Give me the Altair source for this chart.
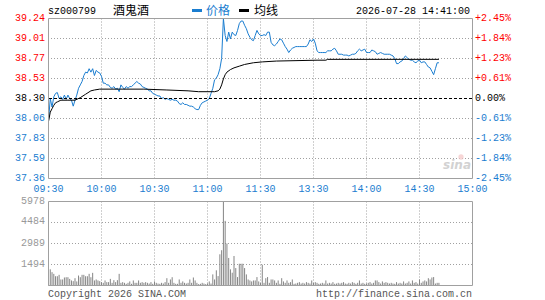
import altair as alt
import pandas as pd

stock_code = "sz000799"
stock_name = "酒鬼酒"
stamp = "2026-07-28 14:41:00"
legend_labels = ["价格", "均线"]
footer_left = "Copyright 2026 SINA.COM"
footer_right = "http://finance.sina.com.cn"
prev_close = 38.30

# one value per trading minute from 09:30 (index 0); 11:30 = 120, 15:00 = 240
price = [
    38.04, 38.30, 38.20, 38.32, 38.36, 38.37, 38.30, 38.32, 38.29, 38.34,
    38.29, 38.34, 38.30, 38.28, 38.21, 38.28, 38.34, 38.42, 38.46, 38.50,
    38.57, 38.61, 38.60, 38.65, 38.61, 38.65, 38.57, 38.63, 38.61, 38.60,
    38.56, 38.48, 38.48, 38.46, 38.46, 38.43, 38.42, 38.44, 38.41, 38.42,
    38.38, 38.46, 38.43, 38.41, 38.44, 38.42, 38.44, 38.44, 38.46, 38.48,
    38.50, 38.48, 38.47, 38.44, 38.43, 38.42, 38.41, 38.39, 38.39, 38.36,
    38.35, 38.34, 38.33, 38.33, 38.30, 38.31, 38.29, 38.30, 38.29, 38.28,
    38.29, 38.28, 38.28, 38.27, 38.24, 38.23, 38.25, 38.23, 38.23, 38.22,
    38.21, 38.21, 38.20, 38.18, 38.17, 38.17, 38.22, 38.25, 38.26, 38.27,
    38.28, 38.30, 38.36, 38.42, 38.52, 38.54, 38.58, 38.65, 38.77, 39.24,
    39.04, 38.97, 39.08, 39.00, 39.08, 39.05, 39.04, 39.10, 39.18, 39.21,
    39.21, 39.16, 39.12, 39.06, 39.02, 38.99, 38.98, 39.04, 39.10, 39.06,
    39.04, 39.04, 39.05, 39.04, 39.08, 39.08, 38.96, 38.93, 38.92, 38.94,
    38.97, 39.00, 38.99, 38.95, 38.91, 38.88, 38.84, 38.87, 38.89, 38.90,
    38.91, 38.91, 38.91, 38.91, 38.91, 38.91, 38.91, 38.94, 38.99, 38.97,
    39.00, 38.95, 38.86, 38.84, 38.84, 38.84, 38.84, 38.84, 38.86, 38.86,
    38.86, 38.88, 38.89, 38.86, 38.82, 38.82, 38.82, 38.81, 38.81, 38.81,
    38.80, 38.81, 38.82, 38.82, 38.83, 38.86, 38.88, 38.86, 38.87, 38.88,
    38.84, 38.84, 38.84, 38.87, 38.86, 38.85, 38.82, 38.83, 38.84, 38.83,
    38.82, 38.82, 38.82, 38.82, 38.81, 38.80, 38.77, 38.71, 38.71, 38.73,
    38.74, 38.77, 38.80, 38.78, 38.76, 38.75, 38.75, 38.73, 38.72, 38.74,
    38.75, 38.72, 38.73, 38.73, 38.70, 38.67, 38.66, 38.62, 38.58, 38.65,
    38.72, 38.72,
]

avg_minute = [0, 1, 2, 3, 4, 5, 7, 11, 15, 18, 21, 24, 26, 29, 41, 54, 67, 79, 85,
              94, 96, 97, 98, 99, 100, 101, 103, 105, 108, 111, 116, 121, 129,
              152, 157, 158, 221]
avg_price = [38.03, 38.14, 38.18, 38.22, 38.25, 38.26, 38.28, 38.28, 38.28, 38.31,
             38.35, 38.39, 38.40, 38.41, 38.41, 38.41, 38.40, 38.39, 38.38,
             38.38, 38.39, 38.41, 38.46, 38.53, 38.58, 38.61, 38.64, 38.66,
             38.68, 38.70, 38.72, 38.73, 38.74, 38.75, 38.75, 38.76, 38.76]

volume = [
    450, 1150, 950, 830, 660, 660, 760, 430, 430, 570,
    590, 590, 470, 360, 310, 520, 290, 710, 590, 760,
    760, 660, 660, 830, 590, 900, 360, 430, 360, 310,
    240, 190, 360, 240, 240, 470, 190, 380, 240, 380,
    830, 190, 240, 190, 120, 190, 290, 120, 360, 190,
    190, 360, 190, 240, 190, 240, 190, 140, 240, 120,
    290, 190, 140, 120, 190, 140, 240, 520, 190, 430,
    590, 190, 120, 120, 430, 190, 290, 190, 140, 190,
    430, 190, 570, 360, 190, 100, 120, 190, 140, 100,
    140, 290, 140, 790, 430, 1080, 670, 2220, 2510, 5978,
    4600, 2990, 1960, 1150, 910, 2100, 1240, 600, 1550, 1550,
    1550, 1240, 790, 430, 360, 290, 360, 360, 600, 290,
    190, 1480, 190, 520, 600, 190, 430, 430, 360, 190,
    360, 120, 520, 290, 190, 360, 190, 240, 430, 120,
    140, 190, 240, 140, 190, 140, 240, 190, 140, 360,
    190, 240, 190, 120, 140, 190, 140, 360, 140, 190,
    140, 240, 120, 140, 190, 140, 190, 240, 140, 120,
    190, 140, 240, 190, 120, 190, 360, 140, 190, 120,
    140, 190, 240, 140, 190, 360, 360, 240, 140, 290,
    190, 240, 190, 140, 190, 140, 120, 240, 140, 190,
    140, 290, 140, 190, 290, 140, 360, 190, 240, 140,
    430, 190, 290, 360, 290, 520, 430, 570, 600, 140,
    190, 190,
]

price_ticks = [39.24, 39.01, 38.77, 38.53, 38.30, 38.06, 37.83, 37.59, 37.36]
pct_ticks = ["+2.45%", "+1.84%", "+1.23%", "+0.61%", "0.00%",
             "-0.61%", "-1.23%", "-1.84%", "-2.45%"]
time_ticks = [0, 30, 60, 90, 120, 150, 180, 210, 240]
time_labels = ["09:30", "10:00", "10:30", "11:00", "11:30",
               "13:30", "14:00", "14:30", "15:00"]
vol_ticks = [5978, 4484, 2989, 1494]

BLUE = "#1a7dd0"
RED = "#ff0000"
GRID = "#a0a0a0"
FONT = "Liberation Mono"
CJK = "Noto Sans CJK SC"
FS = 10

# ---- data frames ----
price_df = pd.DataFrame({"minute": list(range(len(price))), "price": price})
avg_df = pd.DataFrame({"minute": avg_minute, "avg": avg_price})
vol_df = pd.DataFrame({"minute": list(range(len(volume))), "volume": volume,
                       "base": [0] * len(volume)})

top, bottom = price_ticks[0], price_ticks[-1]
n = len(price_ticks) - 1
levels = [top - i * (top - bottom) / n for i in range(n + 1)]
colors = [RED if t > prev_close else ("#000000" if t == prev_close else BLUE)
          for t in price_ticks]
ptick_df = pd.DataFrame({"level": levels, "label": [f"{t:.2f}" for t in price_ticks],
                         "pct": pct_ticks, "color": colors})
inner_df = ptick_df[(ptick_df.index > 0) & (ptick_df.index < n) &
                    (ptick_df.label != f"{prev_close:.2f}")]
close_df = ptick_df[ptick_df.label == f"{prev_close:.2f}"]

time_df = pd.DataFrame({"minute": time_ticks, "label": time_labels})
vgrid_df = pd.DataFrame({"minute": time_ticks[1:-1], "ptop": top, "pbot": bottom,
                         "vtop": vol_ticks[0], "vbot": 0})
frame_df = pd.DataFrame({"x0": [time_ticks[0]], "x1": [time_ticks[-1]],
                         "ptop": [top], "pbot": [bottom],
                         "vtop": [vol_ticks[0]], "vbot": [0]})
vtick_df = pd.DataFrame({"vol": vol_ticks, "label": [str(v) for v in vol_ticks]})
vgrid_h_df = vtick_df.iloc[1:]

xs = alt.Scale(domain=[time_ticks[0], time_ticks[-1]], range=[0.5, 424.5], nice=False, zero=False)
ps = alt.Scale(domain=[bottom, top], range=[160.5, 0.5], nice=False, zero=False)
vs = alt.Scale(domain=[0, vol_ticks[0]], range=[267.5, 183.5], nice=False, zero=False)


def X(f):
    return alt.X(f, scale=xs, axis=None)


def PY(f):
    return alt.Y(f, scale=ps, axis=None)


def VY(f):
    return alt.Y(f, scale=vs, axis=None)


layers = []

# grids
layers.append(alt.Chart(inner_df).mark_rule(color=GRID, strokeWidth=1, strokeDash=[1, 2])
              .encode(y=PY("level:Q")))
layers.append(alt.Chart(vgrid_df).mark_rule(color=GRID, strokeWidth=1, strokeDash=[1, 2])
              .encode(x=X("minute:Q"), y=PY("ptop:Q"), y2="pbot:Q"))
layers.append(alt.Chart(vgrid_h_df).mark_rule(color=GRID, strokeWidth=1, strokeDash=[1, 2])
              .encode(y=VY("vol:Q")))
layers.append(alt.Chart(vgrid_df).mark_rule(color=GRID, strokeWidth=1, strokeDash=[1, 2])
              .encode(x=X("minute:Q"), y=VY("vtop:Q"), y2="vbot:Q"))

# volume bars
layers.append(alt.Chart(vol_df).mark_rule(color="#858585", strokeWidth=1)
              .encode(x=X("minute:Q"), y=VY("volume:Q"), y2="base:Q"))

# price + average
layers.append(alt.Chart(price_df).mark_line(color=BLUE, strokeWidth=1)
              .encode(x=X("minute:Q"), y=PY("price:Q")))
layers.append(alt.Chart(avg_df).mark_line(color="#000000", strokeWidth=1)
              .encode(x=X("minute:Q"), y=PY("avg:Q")))
layers.append(alt.Chart(close_df).mark_rule(color="#000000", strokeWidth=1, strokeDash=[3, 2])
              .encode(y=PY("level:Q")))

# frames
layers.append(alt.Chart(frame_df).mark_rect(fillOpacity=0, stroke=GRID, strokeWidth=1)
              .encode(x=X("x0:Q"), x2="x1:Q", y=PY("ptop:Q"), y2="pbot:Q"))
layers.append(alt.Chart(frame_df).mark_rect(fillOpacity=0, stroke=GRID, strokeWidth=1)
              .encode(x=X("x0:Q"), x2="x1:Q", y=VY("vtop:Q"), y2="vbot:Q"))

# axis labels
layers.append(alt.Chart(ptick_df).mark_text(align="right", baseline="middle", font=FONT,
                                            fontSize=FS, dy=-1)
              .encode(x=alt.value(-3), y=PY("level:Q"), text="label:N",
                      color=alt.Color("color:N", scale=None)))
layers.append(alt.Chart(ptick_df).mark_text(align="left", baseline="middle", font=FONT,
                                            fontSize=FS, dy=-1)
              .encode(x=alt.value(427), y=PY("level:Q"), text="pct:N",
                      color=alt.Color("color:N", scale=None)))
layers.append(alt.Chart(time_df).mark_text(align="center", baseline="middle", font=FONT,
                                           fontSize=FS, color=BLUE)
              .encode(x=X("minute:Q"), y=alt.value(171), text="label:N"))
layers.append(alt.Chart(vtick_df).mark_text(align="right", baseline="middle", font=FONT,
                                            fontSize=FS, color="#999999", dy=-1)
              .encode(x=alt.value(-3), y=VY("vol:Q"), text="label:N"))

# header
hdr = pd.DataFrame({"code": [stock_code], "name": [stock_name], "stamp": [stamp],
                    "l1": [legend_labels[0]], "l2": [legend_labels[1]],
                    "fl": [footer_left], "fr": [footer_right]})
layers.append(alt.Chart(hdr).mark_text(align="left", baseline="alphabetic", font=FONT, fontSize=FS,
                                       color="#000000")
              .encode(x=alt.value(0), y=alt.value(-4), text="code:N"))
layers.append(alt.Chart(hdr).mark_text(align="left", baseline="alphabetic", font=CJK, fontSize=12,
                                       color="#000000")
              .encode(x=alt.value(65), y=alt.value(-3), text="name:N"))
layers.append(alt.Chart(hdr).mark_rect(color=BLUE)
              .encode(x=alt.value(144), x2=alt.value(154), y=alt.value(-9), y2=alt.value(-6)))
layers.append(alt.Chart(hdr).mark_text(align="left", baseline="alphabetic", font=CJK, fontSize=12,
                                       color=BLUE)
              .encode(x=alt.value(158), y=alt.value(-3), text="l1:N"))
layers.append(alt.Chart(hdr).mark_rect(color="#000000")
              .encode(x=alt.value(191), x2=alt.value(201), y=alt.value(-9), y2=alt.value(-6)))
layers.append(alt.Chart(hdr).mark_text(align="left", baseline="alphabetic", font=CJK, fontSize=12,
                                       color="#000000")
              .encode(x=alt.value(206), y=alt.value(-3), text="l2:N"))
layers.append(alt.Chart(hdr).mark_text(align="right", baseline="alphabetic", font=FONT, fontSize=FS,
                                       color="#000000")
              .encode(x=alt.value(422), y=alt.value(-4), text="stamp:N"))
layers.append(alt.Chart(hdr).mark_text(align="left", baseline="alphabetic", font=FONT, fontSize=FS,
                                       color="#555555")
              .encode(x=alt.value(0), y=alt.value(279), text="fl:N"))
layers.append(alt.Chart(hdr).mark_text(align="right", baseline="alphabetic", font=FONT, fontSize=FS,
                                       color="#555555")
              .encode(x=alt.value(424), y=alt.value(279), text="fr:N"))
# faint logo watermark
layers.append(alt.Chart(hdr).mark_point(filled=True, shape="circle", size=28, color="#f3c4c4")
              .encode(x=alt.value(413), y=alt.value(139)))
layers.append(alt.Chart(hdr).mark_text(align="right", baseline="alphabetic", font="DejaVu Sans",
                                       fontSize=12, fontStyle="italic", fontWeight="bold",
                                       color="#d2d2d2")
              .encode(x=alt.value(423), y=alt.value(151), text=alt.value("sina")))

chart = (
    alt.layer(*layers)
    .resolve_scale(y="independent")
    .properties(width=424, height=267,
                padding={"left": 48, "top": 18, "right": 73, "bottom": 15},
                autosize=alt.AutoSizeParams(type="none"),
                background="#ffffff")
    .configure_view(stroke=None)
)

chart.save("out.html", embed_options={"renderer": "svg", "actions": False})
